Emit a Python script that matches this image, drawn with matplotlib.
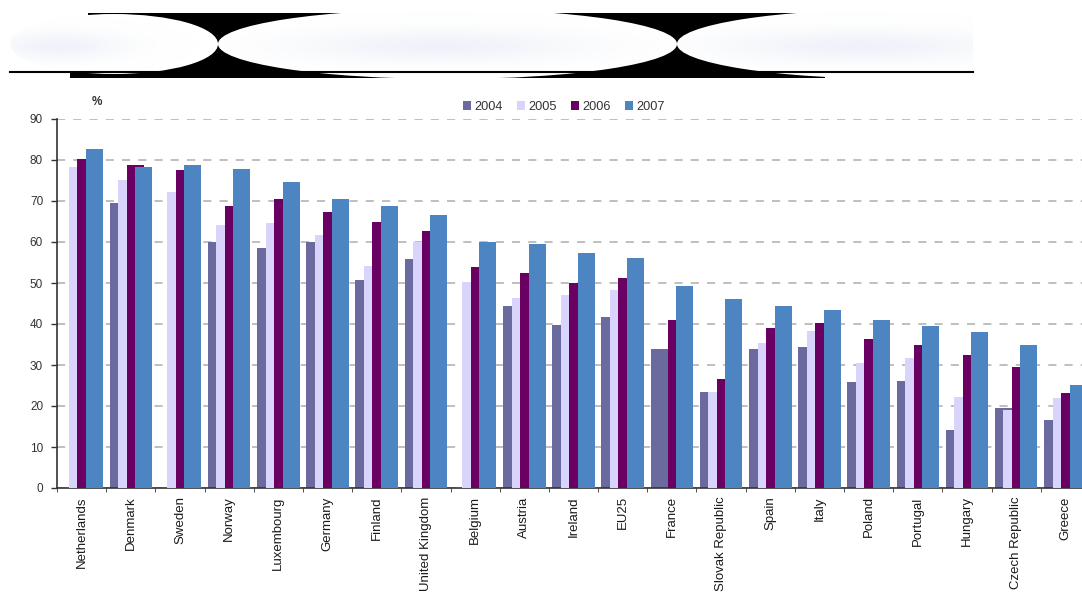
import numpy as np
import matplotlib
matplotlib.use("Agg")
import matplotlib.pyplot as plt
from matplotlib.patches import Ellipse, Polygon

plt.rcParams['font.family'] = ['Liberation Sans', 'DejaVu Sans']

# data (%), nan = no bar shown
countries = ["Netherlands", "Denmark", "Sweden", "Norway", "Luxembourg", "Germany",
             "Finland", "United Kingdom", "Belgium", "Austria", "Ireland", "EU25",
             "France", "Slovak Republic", "Spain", "Italy", "Poland", "Portugal",
             "Hungary", "Czech Republic", "Greece"]
years = ["2004", "2005", "2006", "2007"]
v2004 = [np.nan, 69.4, np.nan, 60.0, 58.5, 60.0, 50.8, 55.8, np.nan, 44.5, 39.8,
         41.6, 33.8, 23.4, 33.8, 34.4, 25.9, 26.2, 14.2, 19.5, 16.6]
v2005 = [78.3, 75.0, 72.3, 64.1, 64.6, 61.7, 54.2, 60.0, 50.2, 46.4, 47.0,
         48.3, np.nan, 23.3, 35.3, 38.3, 30.6, 31.6, 22.3, 19.0, 21.9]
v2006 = [80.3, 78.8, 77.5, 68.8, 70.4, 67.2, 64.8, 62.7, 54.0, 52.5, 49.9,
         51.2, 41.0, 26.7, 39.1, 40.2, 36.3, 34.9, 32.5, 29.4, 23.1]
v2007 = [82.7, 78.2, 78.7, 77.7, 74.7, 70.6, 68.9, 66.6, 60.1, 59.6, 57.4,
         56.0, 49.3, 46.1, 44.5, 43.4, 40.9, 39.6, 38.0, 34.9, 25.1]
colors = ["#6b6a9e", "#d8d4fb", "#6a0062", "#4d85c2"]

W, H = 1082, 592
fig = plt.figure(figsize=(W / 100, H / 100), dpi=100)

# ---- decorative banner at the top (pixel coordinates) ----
bg = fig.add_axes([0, 0, 1, 1], zorder=0)
bg.set_xlim(0, W)
bg.set_ylim(H, 0)
bg.axis('off')

band = Polygon([(88, 13), (973, 13), (973, 72), (825, 72), (825, 78),
                (70, 78), (70, 72), (88, 72)], closed=True, fc='black', ec='none',
               zorder=1)
bg.add_patch(band)

ellipses = [(114, 44, 104, 30), (447.5, 44, 229.5, 35), (900, 44, 223, 35)]
glow_x = [60, 440, 860]
for (cx, cy, a, b), gx in zip(ellipses, glow_x):
    ell = Ellipse((cx, cy), 2 * a, 2 * b, fc='white', ec='none', zorder=2)
    bg.add_patch(ell)
    x0, x1 = cx - a, min(cx + a, 973)
    xs = np.linspace(x0, x1, 300)
    ys = np.linspace(cy - b, cy + b, 80)
    X, Y = np.meshgrid(xs, ys)
    alpha = 0.55 * np.exp(-((X - gx) / (0.6 * a)) ** 2 - ((Y - cy - 2) / (0.45 * b)) ** 2)
    img = np.zeros((len(ys), len(xs), 4))
    img[..., 0], img[..., 1], img[..., 2] = 0.89, 0.91, 0.96
    img[..., 3] = alpha
    im = bg.imshow(img, extent=(x0, x1, cy + b, cy - b), aspect='auto',
                   interpolation='bilinear', zorder=3)
    im.set_clip_path(ell)

bg.plot([10, 973], [72, 72], color='black', lw=1.5, zorder=4)

# ---- bar chart ----
ax_l, ax_r, ax_top, ax_bot = 57, 1090, 119, 488
ax = fig.add_axes([ax_l / W, 1 - ax_bot / H, (ax_r - ax_l) / W, (ax_bot - ax_top) / H],
                  zorder=1)
ax.patch.set_alpha(0)

x = np.arange(len(countries))
bw = 0.3455
step = 0.1728
start = -0.5 + 0.068
for k, (vals, col) in enumerate(zip([v2004, v2005, v2006, v2007], colors)):
    ax.bar(x + start + k * step, vals, width=bw, align='edge', color=col,
           label=years[k], zorder=2 + k)

ax.set_xlim(-0.5, len(countries) - 0.5)
ax.set_ylim(0, 90)
ax.set_yticks(np.arange(0, 91, 10))
ax.yaxis.grid(True, color='#bababa', lw=1.3, dashes=(4.5, 4.5), zorder=0)
ax.set_axisbelow(True)

ax.set_xticks(x)
ax.set_xticklabels(countries, rotation=90, fontsize=9.5, color='#1a1a1a')
ax.set_xticks(np.arange(-0.5, len(countries), 1), minor=True)
ax.tick_params(axis='x', which='major', length=0, pad=6)
ax.tick_params(axis='x', which='minor', length=3, color='#333333')
ax.tick_params(axis='y', length=4, width=1, color='#333333', pad=6,
               labelsize=8.5, labelcolor='#333333')

for s in ['top', 'right']:
    ax.spines[s].set_visible(False)
ax.spines['left'].set_color('#333333')
ax.spines['bottom'].set_color('#333333')
ax.spines['left'].set_linewidth(1.2)
ax.spines['bottom'].set_linewidth(1.2)

fig.text(97 / W, 1 - 102 / H, "%", fontsize=8.5, color='#333333',
         ha='center', va='center', fontweight='bold')

handles, labels = ax.get_legend_handles_labels()
leg = fig.legend(handles, labels, loc='center', ncol=4,
                 bbox_to_anchor=(564 / W, 1 - 107 / H), fontsize=9.2,
                 handlelength=0.65, handleheight=0.65, handletextpad=0.3,
                 columnspacing=1.05, frameon=True, borderpad=0.3)
leg.get_frame().set_edgecolor('white')
leg.get_frame().set_facecolor('white')
for t in leg.get_texts():
    t.set_color('#333333')

fig.savefig("out.png", dpi=100)
